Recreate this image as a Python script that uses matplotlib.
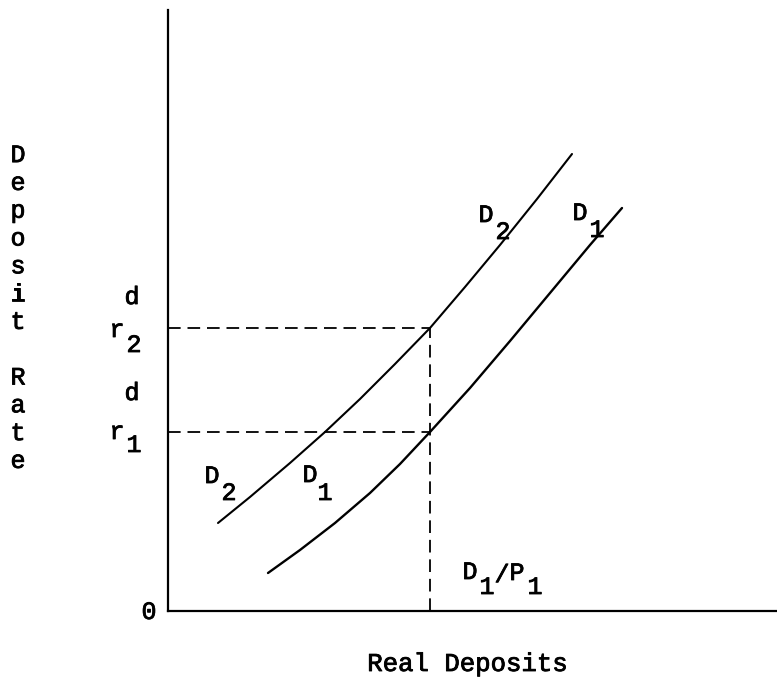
import matplotlib
matplotlib.use("Agg")
import matplotlib.pyplot as plt
import matplotlib.patheffects as pe

# ---- data (axis units measured from the origin) ----
d2_x = [50, 82, 122, 157, 192, 227, 262, 297, 332, 369, 404]
d2_y = [88, 114, 148, 179, 212, 247, 283, 324, 366, 412, 457]
d1_x = [100, 132, 167, 202, 232, 262, 302, 342, 382, 422, 454]
d1_y = [38, 61, 88, 118, 147, 179, 223, 270, 318, 366, 403]
r1 = 179          # deposit rate r1
r2 = 283          # deposit rate r2
q1 = 262          # real deposits D1/P1
xlabel = "Real Deposits"
ylabel = "Deposit Rate"

FONT = "Liberation Mono"
FS = 18
W, H = 777, 686
EFFECT = [pe.withStroke(linewidth=0.6, foreground="black")]

fig = plt.figure(figsize=(W / 100, H / 100), dpi=100)
ox, oy = 168, 611
ax = fig.add_axes([ox / W, (H - oy) / H, (W - ox) / W, (oy - 10) / H])
ax.set_xlim(0, W - ox)
ax.set_ylim(0, oy - 10)
for s in ("top", "right"):
    ax.spines[s].set_visible(False)
for s in ("left", "bottom"):
    ax.spines[s].set_linewidth(1.6)
    ax.spines[s].set_color("black")
ax.set_xticks([])
ax.set_yticks([])

# curves
ax.plot(d2_x, d2_y, color="black", lw=1.5, solid_capstyle="round", solid_joinstyle="round")
ax.plot(d1_x, d1_y, color="black", lw=1.7, solid_capstyle="round", solid_joinstyle="round")

# dashed guides
dash = (0, (7, 3.8))
ax.plot([0, q1], [r2, r2], color="black", lw=1.3, linestyle=dash)
ax.plot([0, q1], [r1, r1], color="black", lw=1.3, linestyle=dash)
ax.plot([q1, q1], [0, r2], color="black", lw=1.3, linestyle=dash)


def tp(px, py, s, **kw):
    kw.setdefault("fontsize", FS)
    ax.text(px - ox, oy - py, s, family=FONT, clip_on=False,
            ha="center", va="center", path_effects=EFFECT, **kw)


# curve labels
tp(212, 476, "D"); tp(229, 493, "2")
tp(310, 475, "D"); tp(325, 493, "1")
tp(486, 215, "D"); tp(503, 232, "2")
tp(580, 213, "D"); tp(597, 230, "1")
tp(470, 572, "D"); tp(487, 587, "1"); tp(502, 575, "/")
tp(517, 573, "P"); tp(535, 587, "1")

# rate labels
tp(132, 297, "d"); tp(117, 330, "r"); tp(134, 345, "2")
tp(132, 393, "d"); tp(117, 432, "r"); tp(134, 445, "1")

# origin
tp(149, 612, "0")

# axis titles
tp(468, 664, xlabel, fontsize=18.5)
tp(18, 308, "\n".join(ylabel), linespacing=1.2)

fig.savefig("out.png", dpi=100)
